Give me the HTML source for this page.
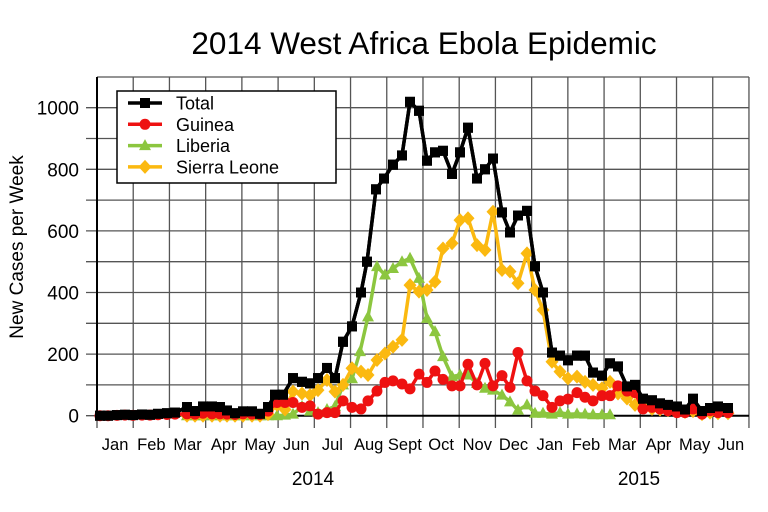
<!DOCTYPE html>
<html><head><meta charset="utf-8"><style>
html,body{margin:0;padding:0;background:#fff;}
svg{display:block;font-family:"Liberation Sans",Arial,sans-serif;}
</style></head><body>
<svg id="s" width="768" height="512" viewBox="0 0 768 512" xmlns="http://www.w3.org/2000/svg">
<rect width="768" height="512" fill="#fff"/>
<text x="424" y="54" font-size="31.5" text-anchor="middle">2014 West Africa Ebola Epidemic</text>
<g id="grid" stroke="#555" stroke-width="1.3"></g>
<line x1="97" y1="77" x2="97" y2="416" stroke="#000" stroke-width="2"/>
<line x1="97" y1="415.7" x2="749" y2="415.7" stroke="#000" stroke-width="2"/>
<g id="ylab" font-size="19" text-anchor="end"></g>
<text transform="translate(23,247) rotate(-90)" font-size="19" text-anchor="middle">New Cases per Week</text>
<g id="mon" font-size="16.5" text-anchor="middle"></g>
<text x="313" y="485" font-size="19" text-anchor="middle">2014</text>
<text x="639" y="485" font-size="19" text-anchor="middle">2015</text>
<g id="series"></g>
<g id="legend">
<rect x="117" y="91" width="219" height="92" fill="#fff" stroke="#000" stroke-width="1.5"/>
</g>
</svg>
<script>
var NS="http://www.w3.org/2000/svg";
function el(t,a,p){var e=document.createElementNS(NS,t);for(var k in a)e.setAttribute(k,a[k]);(p||document.getElementById('s')).appendChild(e);return e;}
var g=document.getElementById('grid');
for(var k=0;k<=18;k++){var x=97+k*36.22;el('line',{x1:x,y1:77,x2:x,y2:428},g);}
function Y(v){return 415.7-v*0.308;}
var yl=document.getElementById('ylab');
for(var v=0;v<=1100;v+=100){var y=Y(v);if(y<77)break;el('line',{x1:86,y1:y,x2:749,y2:y},g);
 if(v%200==0){var t=el('text',{x:79,y:y+7},yl);t.textContent=v;}}
el('line',{x1:97,y1:77,x2:749,y2:77},g);
var mons=["Jan","Feb","Mar","Apr","May","Jun","Jul","Aug","Sept","Oct","Nov","Dec","Jan","Feb","Mar","Apr","May","Jun"];
var mg=document.getElementById('mon');
mons.forEach(function(m,i){var t=el('text',{x:97+36.22*(i+0.5),y:450},mg);t.textContent=m;});
var total=[[100,0],[108,0],[117,2],[125,3],[133,2],[142,4],[150,3],[158,6],[167,8],[175,10],[187,28],[195,15],[203,30],[212,30],[220,28],[227,17],[235,8],[243,14],[252,14],[260,6],[268,28],[275,68],[283,68],[293,122],[302,110],[310,105],[318,122],[327,155],[335,122],[343,240],[352,290],[361,400],[367,500],[376,735],[384,770],[393,815],[402,845],[410,1019],[419,990],[427,828],[435,855],[443,860],[452,785],[460,855],[468,935],[477,770],[485,800],[493,835],[502,660],[510,595],[518,650],[527,665],[535,485],[543,400],[552,205],[560,195],[568,180],[577,195],[585,195],[593,140],[602,130],[610,170],[618,160],[627,95],[635,100],[643,55],[652,50],[660,40],[668,35],[677,30],[685,20],[693,55],[702,15],[710,25],[718,30],[728,25]];
var guinea=[[100,0],[108,0],[117,1],[125,2],[133,1],[142,2],[150,2],[158,3],[167,4],[175,5],[187,6],[195,5],[203,8],[212,6],[220,6],[227,5],[235,4],[243,6],[252,5],[260,4],[268,15],[277,43],[285,43],[293,43],[302,27],[310,32],[318,5],[327,10],[335,10],[343,48],[352,27],[361,22],[368,48],[377,80],[385,108],[393,113],[402,103],[410,87],[419,135],[427,108],[435,145],[443,118],[452,97],[460,97],[468,167],[477,100],[485,170],[493,97],[502,130],[510,92],[518,205],[527,113],[535,80],[543,65],[552,27],[560,48],[568,54],[577,75],[585,60],[593,48],[602,65],[610,65],[618,97],[627,80],[635,75],[643,22],[652,27],[660,22],[668,16],[677,10],[685,10],[693,22],[702,5],[710,16],[718,10],[728,10]];
var liberia=[[187,0],[195,0],[203,0],[212,0],[220,0],[227,0],[235,0],[243,0],[252,0],[260,0],[268,0],[277,0],[285,2],[293,5],[302,30],[310,15],[318,10],[327,20],[335,30],[343,100],[352,120],[360,208],[368,321],[377,484],[385,457],[393,478],[402,500],[410,511],[419,446],[427,316],[435,273],[443,192],[452,127],[460,132],[468,132],[477,105],[485,89],[493,83],[502,67],[510,45],[518,18],[527,35],[535,8],[543,8],[552,5],[560,10],[568,5],[577,6],[585,5],[593,3],[602,3],[610,3]];
var sl=[[187,0],[195,0],[203,0],[212,0],[220,0],[227,0],[235,0],[243,0],[252,0],[260,0],[268,5],[277,35],[285,20],[293,78],[302,72],[310,67],[318,83],[327,116],[335,78],[343,100],[352,154],[361,143],[368,132],[377,181],[385,202],[393,224],[402,246],[410,424],[419,403],[427,408],[435,435],[443,543],[452,560],[460,635],[468,641],[477,554],[485,538],[493,662],[502,473],[510,468],[518,430],[527,527],[535,408],[543,343],[552,175],[560,143],[568,121],[577,127],[585,110],[593,100],[602,89],[610,110],[618,72],[627,56],[635,35],[643,29],[652,22],[660,20],[668,18],[677,15],[685,12],[693,15],[702,5],[710,10],[718,8],[728,8]];
var sg=document.getElementById('series');
function marker(type,x,y,c,p){
 if(type=='sq')el('rect',{x:x-5,y:y-5,width:10,height:10,fill:c},p);
 else if(type=='ci')el('circle',{cx:x,cy:y,r:5.5,fill:c},p);
 else if(type=='tr')el('polygon',{points:(x)+','+(y-6.5)+' '+(x-6)+','+(y+4.5)+' '+(x+6)+','+(y+4.5),fill:c},p);
 else el('polygon',{points:x+','+(y-7)+' '+(x+6.5)+','+y+' '+x+','+(y+7)+' '+(x-6.5)+','+y,fill:c},p);}
function series(d,c,type){
 var pts=d.map(function(p){return p[0]+','+Y(p[1]).toFixed(1);}).join(' ');
 el('polyline',{points:pts,fill:'none',stroke:c,'stroke-width':3.5,'stroke-linejoin':'round'},sg);
 d.forEach(function(p){marker(type,p[0],Y(p[1]),c,sg);});}
series(total,'#000','sq');
series(liberia,'#8cc63f','tr');
series(sl,'#fbb910','di');
series(guinea,'#ee1111','ci');
var tg=el('g',{},sg);
var pts=total.map(function(p){return p[0]+','+Y(p[1]).toFixed(1);}).join(' ');
el('polyline',{points:pts,fill:'none',stroke:'#000','stroke-width':3.5,'stroke-linejoin':'round'},tg);
total.forEach(function(p){marker('sq',p[0],Y(p[1]),'#000',tg);});
var lg=document.getElementById('legend');
var L=[['Total','#000','sq'],['Guinea','#ee1111','ci'],['Liberia','#8cc63f','tr'],['Sierra Leone','#fbb910','di']];
L.forEach(function(l,i){var y=103+i*21.3;
 el('line',{x1:128,y1:y,x2:162,y2:y,stroke:l[1],'stroke-width':3.5},lg);
 marker(l[2],145,y,l[1],lg);
 var t=el('text',{x:176,y:y+6.5,'font-size':18},lg);t.textContent=l[0];});
</script>
</body></html>
